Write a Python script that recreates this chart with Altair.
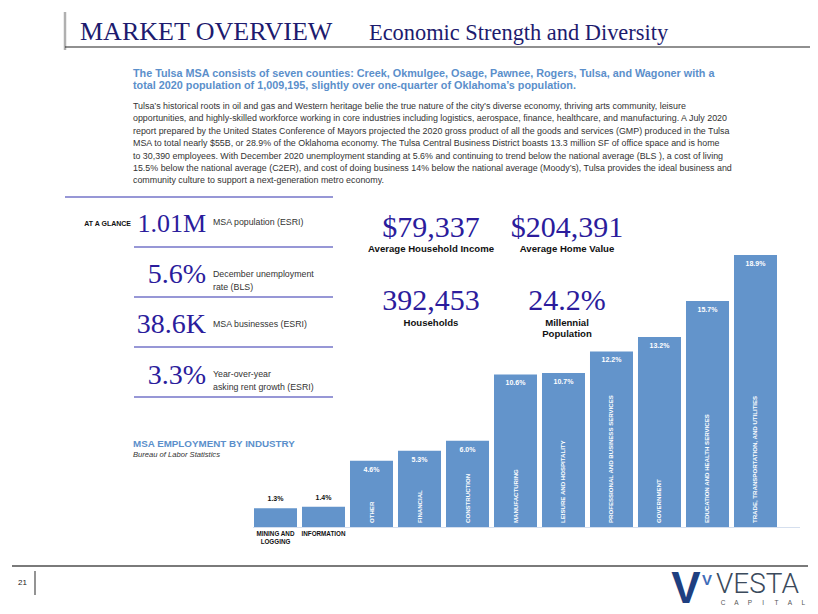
import altair as alt
import pandas as pd

# ---------------- data ----------------
categories = ["MINING AND LOGGING", "INFORMATION", "OTHER", "FINANCIAL", "CONSTRUCTION",
              "MANUFACTURING", "LEISURE AND HOSPITALITY", "PROFESSIONAL AND BUSINESS SERVICES",
              "GOVERNMENT", "EDUCATION AND HEALTH SERVICES", "TRADE, TRANSPORTATION, AND UTILITIES"]
shares = [1.3, 1.4, 4.6, 5.3, 6.0, 10.6, 10.7, 12.2, 13.2, 15.7, 18.9]
share_labels = ["1.3%", "1.4%", "4.6%", "5.3%", "6.0%", "10.6%", "10.7%", "12.2%", "13.2%", "15.7%", "18.9%"]
label_outside = [True, True, False, False, False, False, False, False, False, False, False]
below_labels = ["MINING AND\nLOGGING", "INFORMATION", "", "", "", "", "", "", "", "", ""]

title_main = "MARKET OVERVIEW"
title_sub = "Economic Strength and Diversity"
lead_lines = ["The Tulsa MSA consists of seven counties: Creek, Okmulgee, Osage, Pawnee, Rogers, Tulsa, and Wagoner with a",
              "total 2020 population of 1,009,195, slightly over one-quarter of Oklahoma\u2019s population."]
body_lines = [
    "Tulsa\u2019s historical roots in oil and gas and Western heritage belie the true nature of the city\u2019s diverse economy, thriving arts community, leisure",
    "opportunities, and highly-skilled workforce working in core industries including logistics, aerospace, finance, healthcare, and manufacturing. A July 2020",
    "report prepared by the United States Conference of Mayors projected the 2020 gross product of all the goods and services (GMP) produced in the Tulsa",
    "MSA to total nearly $55B, or 28.9% of the Oklahoma economy. The Tulsa Central Business District boasts 13.3 million SF of office space and is home",
    "to 30,390 employees. With December 2020 unemployment standing at 5.6% and continuing to trend below the national average (BLS ), a cost of living",
    "15.5% below the national average (C2ER), and cost of doing business 14% below the national average (Moody\u2019s), Tulsa provides the ideal business and",
    "community culture to support a next-generation metro economy.",
]
glance_values = ["1.01M", "5.6%", "38.6K", "3.3%"]
glance_labels = ["MSA population (ESRI)", "December unemployment\nrate (BLS)", "MSA businesses (ESRI)",
                 "Year-over-year\nasking rent growth (ESRI)"]
key_values = ["$79,337", "$204,391", "392,453", "24.2%"]
key_labels = ["Average Household Income", "Average Home Value", "Households", "Millennial\nPopulation"]
chart_title = "MSA EMPLOYMENT BY INDUSTRY"
chart_source = "Bureau of Labor Statistics"
page_number = "21"
brand = "VESTA"
brand_sub = ["C", "A", "P", "I", "T", "A", "L"]

# ---------------- styles ----------------
O = 8
def P(v):
    return v - O

NAVY = "#1d1b6e"
INDIGO = "#2b1c9c"
BLUE = "#5b8fcb"
BAR = "#6394cb"
LINE = "#7474c9"
SANS = "Liberation Sans"
SERIF = "Liberation Serif"

one = alt.Data(values=[{"k": 1}])

def txt(text, x, y, size, color="#222", font=SANS, weight="normal", align="left",
        baseline="middle", style="normal", lh=None, angle=None):
    kw = dict(fontSize=size, color=color, font=font, fontWeight=weight, align=align,
              baseline=baseline, fontStyle=style, lineBreak="\n")
    if lh is not None:
        kw["lineHeight"] = lh
    if angle is not None:
        kw["angle"] = angle
    return alt.Chart(one).mark_text(**kw).encode(
        x=alt.value(P(x)), y=alt.value(P(y)), text=alt.value(text))

def hrule(x1, x2, y, color, w=1.0):
    return alt.Chart(one).mark_rule(color=color, strokeWidth=w).encode(
        x=alt.value(P(x1)), x2=alt.value(P(x2)), y=alt.value(P(y)))

def vrule(x, y1, y2, color, w=1.0):
    return alt.Chart(one).mark_rule(color=color, strokeWidth=w).encode(
        x=alt.value(P(x)), y=alt.value(P(y1)), y2=alt.value(P(y2)))

layers = []

# header
layers.append(vrule(65, 12, 50, "#b0b0b0", 2.5))
layers.append(hrule(65, 818, 47, "#222222", 1.2))
layers.append(txt(title_main, 80, 40, 26, NAVY, SERIF, baseline="alphabetic"))
layers.append(txt(title_sub, 369, 40, 22.4, NAVY, SERIF, baseline="alphabetic"))

# lead + body
layers.append(txt("\n".join(lead_lines), 133, 74, 10.8, BLUE, SANS, "bold", lh=12))
layers.append(txt("\n".join(body_lines), 133, 106, 8.9, "#333333", SANS, lh=12.4))

# at a glance
layers.append(hrule(65, 333, 197, LINE, 1.6))
for yy in [247, 297, 347, 397]:
    layers.append(hrule(134, 333, yy, LINE, 1.6))
layers.append(txt("AT A GLANCE", 131, 224, 7, "#111111", SANS, "bold", align="right"))
g_base = [232, 283, 333, 384]
g_lab = [222, 274, 324, 374]
g_size = [26, 28, 28, 28]
for v, lab, yb, yl, sz in zip(glance_values, glance_labels, g_base, g_lab, g_size):
    layers.append(txt(v, 206, yb, sz, INDIGO, SERIF, align="right", baseline="alphabetic"))
    layers.append(txt(lab, 213, yl, 8.8, "#333333", SANS, lh=12.5))

# key stats
k_x = [431, 567, 431, 567]
k_base = [237, 237, 310, 310]
k_lab = [249, 249, 323, 323]
for v, lab, xx, yb, yl in zip(key_values, key_labels, k_x, k_base, k_lab):
    layers.append(txt(v, xx, yb, 30, INDIGO, SERIF, align="center", baseline="alphabetic"))
    layers.append(txt(lab, xx, yl, 9.6, "#111111", SANS, "bold", align="center", lh=11))

# chart titles
layers.append(txt(chart_title, 133, 444, 9.8, BLUE, SANS, "bold"))
layers.append(txt(chart_source, 133, 455, 7.6, "#333333", SANS, style="italic"))

# bar chart
df = pd.DataFrame({"cat": categories, "share": shares, "lab": share_labels,
                   "outside": label_outside, "below": below_labels})
xs = alt.Scale(domain=categories, range=[P(254), P(777)], paddingInner=0.104, paddingOuter=0)
ys = alt.Scale(domain=[0, 18.9], range=[P(527), P(255)], nice=False, zero=True)
X = alt.X("cat:N", scale=xs, axis=None, sort=categories)
Y = alt.Y("share:Q", scale=ys, axis=None)

base = alt.Chart(df)
layers.append(hrule(253, 800, 527.5, "#d5dfee", 1.2))
layers.append(base.mark_bar(color=BAR).encode(x=X, y=Y, y2=alt.datum(0)))
layers.append(base.transform_filter("!datum.outside").mark_text(
    color="white", font=SANS, fontWeight="bold", fontSize=7, baseline="middle", dy=9).encode(
    x=X, y=Y, text="lab:N"))
layers.append(base.transform_filter("datum.outside").mark_text(
    color="#111111", font=SANS, fontWeight="bold", fontSize=7, baseline="middle", dy=-9).encode(
    x=X, y=Y, text="lab:N"))
layers.append(base.transform_filter("!datum.outside").mark_text(
    color="white", font=SANS, fontWeight="bold", fontSize=6.1, angle=270, align="left",
    baseline="middle").encode(x=X, y=alt.value(P(523)), text="cat:N"))
layers.append(base.transform_filter("datum.outside").mark_text(
    color="#111111", font=SANS, fontWeight="bold", fontSize=6.3, align="center",
    baseline="top", lineBreak="\n", lineHeight=7.5).encode(x=X, y=alt.value(P(531)), text="below:N"))

# footer
layers.append(hrule(12, 808, 566, "#7a7a7a", 2))
layers.append(txt(page_number, 18, 583, 8, "#222222", SANS))
layers.append(vrule(35, 571, 595, "#666666", 1.4))
layers.append(txt("V", 686, 603, 44, "#1f3f80", SANS, "bold", align="center", baseline="alphabetic"))
layers.append(txt("V", 707, 585, 15, "#3f6cb8", SANS, "bold", align="center", baseline="alphabetic"))
layers.append(txt(brand, 716, 593, 28, "#3b4a5c", "Roboto", 300, baseline="alphabetic"))
for i, ch in enumerate(brand_sub):
    layers.append(txt(ch, 723 + i * 13.4, 603, 6.5, "#555555", SANS, align="center"))

chart = alt.layer(*layers).properties(
    width=802, height=606, padding=0, autosize="none", background="white"
).configure_view(stroke=None)

chart.save("out.html", embed_options={"renderer": "svg", "actions": False})
